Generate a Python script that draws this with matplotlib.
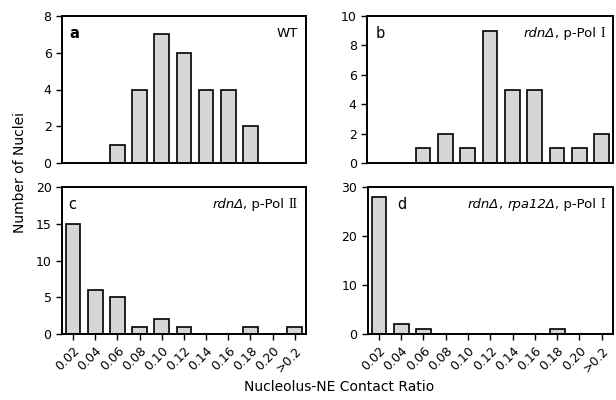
import matplotlib
matplotlib.use("Agg")
import matplotlib.pyplot as plt
from matplotlib.offsetbox import TextArea, HPacker, AnchoredOffsetbox

plt.rcParams['font.family'] = ['DejaVu Sans']

categories = ['0.02', '0.04', '0.06', '0.08', '0.10', '0.12', '0.14',
              '0.16', '0.18', '0.20', '>0.2']
wt = [0, 0, 1, 4, 7, 6, 4, 4, 2, 0, 0]
rdn_pol1 = [0, 0, 1, 2, 1, 9, 5, 5, 1, 1, 2]
rdn_pol2 = [15, 6, 5, 1, 2, 1, 0, 0, 1, 0, 1]
rdn_rpa12 = [28, 2, 1, 0, 0, 0, 0, 0, 1, 0, 0]

# label pieces: (text, style) where style is 'it', 'n' or 'serif'
labels = [
    [('WT', 'n')],
    [('rdnΔ', 'it'), (', p-Pol ', 'n'), ('I', 'serif')],
    [('rdnΔ', 'it'), (', p-Pol ', 'n'), ('II', 'serif')],
    [('rdnΔ', 'it'), (', ', 'n'), ('rpa12Δ', 'it'), (', p-Pol ', 'n'), ('I', 'serif')],
]
letters = ['a', 'b', 'c', 'd']
values = [wt, rdn_pol1, rdn_pol2, rdn_rpa12]
yticks = [[0, 2, 4, 6, 8], [0, 2, 4, 6, 8, 10], [0, 5, 10, 15, 20], [0, 10, 20, 30]]
letter_x = [0.03, 0.033, 0.025, 0.12]

boxes = [
    [0.1006, 0.5925, 0.396, 0.3675],
    [0.596, 0.5925, 0.399, 0.3675],
    [0.1006, 0.165, 0.396, 0.3675],
    [0.597, 0.165, 0.398, 0.3675],
]

styles = {
    'it': dict(fontsize=9.5, fontstyle='italic'),
    'n': dict(fontsize=9.5),
    'serif': dict(fontsize=10, family='Liberation Serif'),
}

fig = plt.figure(figsize=(6.16, 4.0), dpi=100)
x = list(range(len(categories)))

for i in range(4):
    ax = fig.add_axes(boxes[i])
    ax.bar(x, values[i], width=0.66, color='#d6d6d6', edgecolor='black', linewidth=1.2)
    ax.set_xlim(-0.5, len(categories) - 0.5)
    ax.set_ylim(0, yticks[i][-1])
    ax.set_yticks(yticks[i])
    ax.tick_params(axis='both', direction='out', length=4, width=1, labelsize=9)
    ax.set_xticks(x)
    if i < 2:
        ax.tick_params(axis='x', bottom=False, labelbottom=False)
    else:
        ax.set_xticklabels(categories, rotation=45, ha='right', rotation_mode='anchor')
    for s in ax.spines.values():
        s.set_linewidth(1.4)
    ax.text(letter_x[i], 0.93, letters[i], transform=ax.transAxes, fontsize=10.5,
            fontweight='bold' if i == 0 else 'normal', va='top', ha='left')

    parts = [TextArea(t, textprops=styles[st]) for t, st in labels[i]]
    pack = HPacker(children=parts, align='baseline', pad=0, sep=0)
    anc = AnchoredOffsetbox(loc='upper right', child=pack, pad=0.0, borderpad=0.5,
                            frameon=False, bbox_to_anchor=(0.995, 0.97),
                            bbox_transform=ax.transAxes)
    ax.add_artist(anc)

fig.text(0.032, 0.57, 'Number of Nuclei', rotation=90, ha='center', va='center', fontsize=10)
fig.text(0.55, 0.0325, 'Nucleolus-NE Contact Ratio', ha='center', va='center', fontsize=10)

fig.savefig('out.png', dpi=100)
